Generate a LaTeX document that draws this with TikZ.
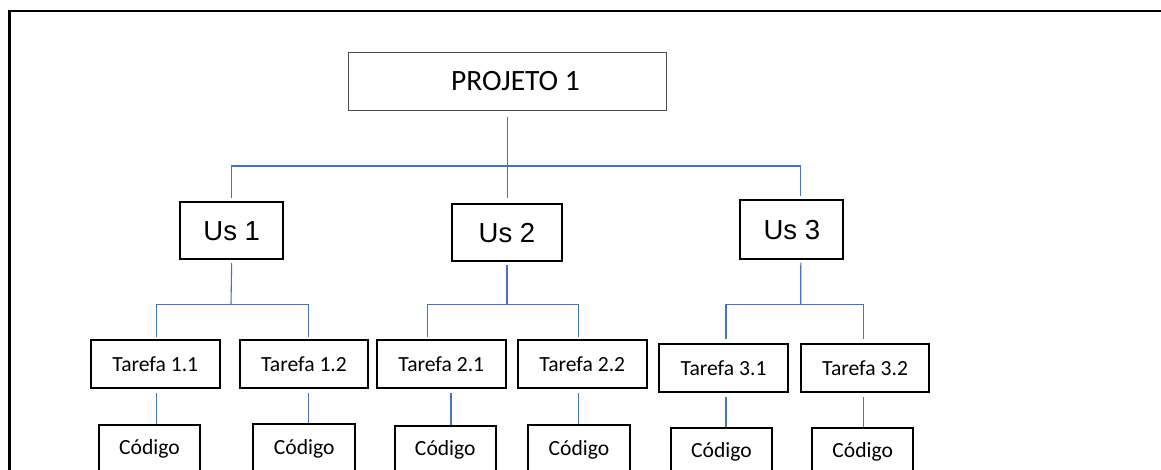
\documentclass[tikz,border=0pt]{standalone}
\usepackage{fontspec}
\setmainfont{Carlito}
\newfontfamily\usfont{Liberation Sans}
\definecolor{linkblue}{RGB}{68,114,196}

\begin{document}
\begin{tikzpicture}[x=1pt,y=-1pt,
	box/.style={draw, line width=2pt, inner sep=0pt, minimum height=48.5pt, font=\fontsize{21.6}{26}\selectfont},
	tbox/.style={box, minimum width=128.7pt},
	cbox/.style={box, minimum width=101.5pt},
	usbox/.style={draw, line width=2pt, inner sep=0pt, minimum height=57pt, font=\usfont\fontsize{27.5}{32}\selectfont},
	link/.style={draw=linkblue, line width=1.1pt}]
	\useasboundingbox (0,0) rectangle (1161,470);
	\clip (0,0) rectangle (1161,470);
	% frame
	\draw[line width=2.5pt] (9.5,480) -- (9.5,11) -- (1170,11);
	% project and user stories
	\node[draw=black!70, line width=1.2pt, inner sep=0pt, minimum width=318pt, minimum height=58pt, font=\fontsize{29.5}{34}\selectfont] (proj) at (507.5,81.5) {\hspace*{16pt}PROJETO 1};
	\node[usbox, minimum width=102.7pt] (us1) at (231.7,231) {Us 1};
	\node[usbox, minimum width=110pt] (us2) at (507,232.7) {Us 2};
	\node[usbox, minimum width=103pt, minimum height=58.7pt] (us3) at (791.8,229.7) {Us 3};
	% tasks
	\node[tbox] (t11) at (155.3,364.2) {Tarefa 1.1};
	\node[tbox] (t12) at (304,364.2) {Tarefa 1.2};
	\node[tbox] (t21) at (441.3,364.2) {Tarefa 2.1};
	\node[tbox] (t22) at (582.3,364.2) {Tarefa 2.2};
	\node[tbox] (t31) at (723.6,368.2) {Tarefa 3.1};
	\node[tbox] (t32) at (865.1,368.2) {Tarefa 3.2};
	% code
	\node[cbox] (c11) at (149.5,449.3) {Código};
	\node[cbox] (c12) at (304.2,448.6) {Código};
	\node[cbox] (c21) at (445.3,450.3) {Código};
	\node[cbox] (c22) at (579,449.6) {Código};
	\node[cbox] (c31) at (721.5,452.3) {Código};
	\node[cbox] (c32) at (862.7,452.3) {Código};
	% junctions
	\coordinate (j0) at (507,166);
	\coordinate (j1) at (231,304.7);
	\coordinate (j2) at (507,304.7);
	\coordinate (j3) at (800.7,304.7);
	% connectors
	\draw[link, shorten <=5.5pt, shorten >=5pt] (proj.south) -- (proj.south |- us2.north);
	\draw[link, shorten <=3pt, shorten >=3pt] (us1.north) |- (j0) -| ([xshift=9pt]us3.north);
	\draw[link, shorten <=2.5pt] (us1.south) -- (j1);
	\draw[link, shorten <=2.5pt] (us2.south) -- (j2);
	\draw[link, shorten <=2.5pt] ([xshift=9pt]us3.south) -- (j3);
	\draw[link, shorten <=1.5pt, shorten >=1.5pt] ([xshift=1pt]t11.north) |- (j1) -| ([xshift=4.7pt]t12.north);
	\draw[link, shorten <=1.5pt, shorten >=1.5pt] ([xshift=-13.6pt]t21.north) |- (j2) -| ([xshift=-3.6pt]t22.north);
	\draw[link, shorten <=4pt, shorten >=4pt] ([xshift=2.4pt]t31.north) |- (j3) -| ([xshift=-1.4pt]t32.north);
	\foreach \t/\c/\dx in {t11/c11/1, t12/c12/4.7, t21/c21/9.7, t22/c22/-3.6, t31/c31/2.4, t32/c32/-1.4}
		\draw[link, shorten <=4pt] ([xshift=\dx pt]\t.south) -- ([xshift=\dx pt]\t.south |- \c.north);
\end{tikzpicture}
\end{document}
